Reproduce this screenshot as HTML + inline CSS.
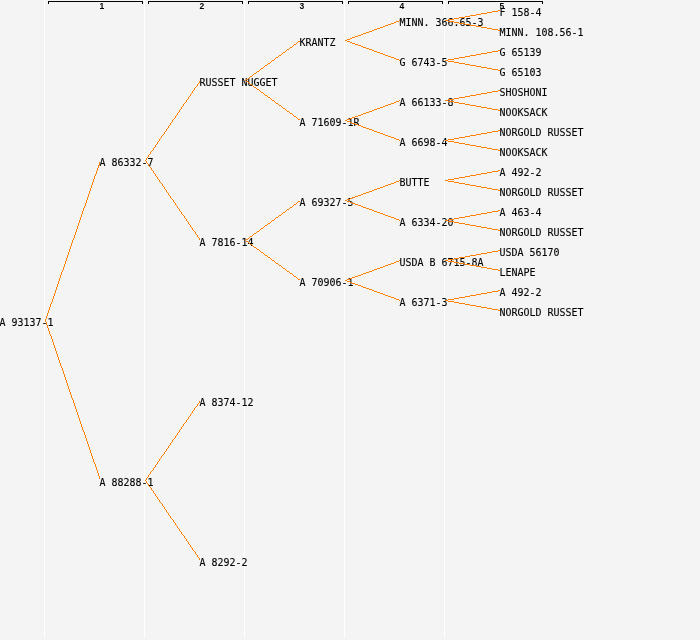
<!DOCTYPE html>
<html lang="en"><head><meta charset="utf-8"><title>Pedigree</title>
<style>
html,body{margin:0;padding:0;background:#f4f4f4;}
body{width:700px;height:640px;overflow:hidden;}
svg{display:block;}
.n{font-family:"DejaVu Sans Mono", "Liberation Mono", monospace;font-size:11px;fill:#000;stroke:#000;stroke-width:0.12px;}
.g{font-family:"Liberation Sans",sans-serif;font-weight:bold;font-size:8.5px;fill:#000;text-anchor:middle;}
.l{fill:#ff8000;stroke:none;}
.b{stroke:#000;stroke-width:1;fill:none;}
.w{stroke:#fff;stroke-width:1;}
</style></head><body>
<svg width="700" height="640" viewBox="0 0 700 640">
<rect width="700" height="640" fill="#f4f4f4"/>
<g shape-rendering="crispEdges">
<line class="w" x1="44.5" y1="0" x2="44.5" y2="638"/>
<line class="w" x1="144.5" y1="0" x2="144.5" y2="638"/>
<line class="w" x1="244.5" y1="0" x2="244.5" y2="638"/>
<line class="w" x1="344.5" y1="0" x2="344.5" y2="638"/>
<line class="w" x1="444.5" y1="0" x2="444.5" y2="638"/>
<path class="b" d="M48.5 4V1.5H142.5V4"/>
<path class="b" d="M148.5 4V1.5H242.5V4"/>
<path class="b" d="M248.5 4V1.5H342.5V4"/>
<path class="b" d="M348.5 4V1.5H442.5V4"/>
<path class="b" d="M448.5 4V1.5H542.5V4"/>
</g>
<text class="g" x="101.8" y="9">1</text>
<text class="g" x="201.8" y="9">2</text>
<text class="g" x="301.8" y="9">3</text>
<text class="g" x="401.8" y="9">4</text>
<text class="g" x="501.8" y="9">5</text>
<g class="n">
<text transform="translate(-0.5 326) scale(0.9060 1)">A 93137-1</text>
<text transform="translate(99.5 166) scale(0.9060 1)">A 86332-7</text>
<text transform="translate(199.5 86) scale(0.9060 1)">RUSSET NUGGET</text>
<text transform="translate(299.5 46) scale(0.9060 1)">KRANTZ</text>
<text transform="translate(399.5 26) scale(0.9060 1)">MINN. 366.65-3</text>
<text transform="translate(499.5 16) scale(0.9060 1)">F 158-4</text>
<text transform="translate(499.5 36) scale(0.9060 1)">MINN. 108.56-1</text>
<text transform="translate(399.5 66) scale(0.9060 1)">G 6743-5</text>
<text transform="translate(499.5 56) scale(0.9060 1)">G 65139</text>
<text transform="translate(499.5 76) scale(0.9060 1)">G 65103</text>
<text transform="translate(299.5 126) scale(0.9060 1)">A 71609-1R</text>
<text transform="translate(399.5 106) scale(0.9060 1)">A 66133-8</text>
<text transform="translate(499.5 96) scale(0.9060 1)">SHOSHONI</text>
<text transform="translate(499.5 116) scale(0.9060 1)">NOOKSACK</text>
<text transform="translate(399.5 146) scale(0.9060 1)">A 6698-4</text>
<text transform="translate(499.5 136) scale(0.9060 1)">NORGOLD RUSSET</text>
<text transform="translate(499.5 156) scale(0.9060 1)">NOOKSACK</text>
<text transform="translate(199.5 246) scale(0.9060 1)">A 7816-14</text>
<text transform="translate(299.5 206) scale(0.9060 1)">A 69327-5</text>
<text transform="translate(399.5 186) scale(0.9060 1)">BUTTE</text>
<text transform="translate(499.5 176) scale(0.9060 1)">A 492-2</text>
<text transform="translate(499.5 196) scale(0.9060 1)">NORGOLD RUSSET</text>
<text transform="translate(399.5 226) scale(0.9060 1)">A 6334-20</text>
<text transform="translate(499.5 216) scale(0.9060 1)">A 463-4</text>
<text transform="translate(499.5 236) scale(0.9060 1)">NORGOLD RUSSET</text>
<text transform="translate(299.5 286) scale(0.9060 1)">A 70906-1</text>
<text transform="translate(399.5 266) scale(0.9060 1)">USDA B 6715-8A</text>
<text transform="translate(499.5 256) scale(0.9060 1)">USDA 56170</text>
<text transform="translate(499.5 276) scale(0.9060 1)">LENAPE</text>
<text transform="translate(399.5 306) scale(0.9060 1)">A 6371-3</text>
<text transform="translate(499.5 296) scale(0.9060 1)">A 492-2</text>
<text transform="translate(499.5 316) scale(0.9060 1)">NORGOLD RUSSET</text>
<text transform="translate(99.5 486) scale(0.9060 1)">A 88288-1</text>
<text transform="translate(199.5 406) scale(0.9060 1)">A 8374-12</text>
<text transform="translate(199.5 566) scale(0.9060 1)">A 8292-2</text>
</g>
<g class="l" shape-rendering="crispEdges">
<path d="M45 319v2h1v-2zM46 316v3h1v-3zM47 313v3h1v-3zM48 310v3h1v-3zM49 307v3h1v-3zM50 304v3h1v-3zM51 302v2h1v-2zM52 299v3h1v-3zM53 296v3h1v-3zM54 293v3h1v-3zM55 290v3h1v-3zM56 287v3h1v-3zM57 284v3h1v-3zM58 281v3h1v-3zM59 278v3h1v-3zM60 275v3h1v-3zM61 272v3h1v-3zM62 270v2h1v-2zM63 267v3h1v-3zM64 264v3h1v-3zM65 261v3h1v-3zM66 258v3h1v-3zM67 255v3h1v-3zM68 252v3h1v-3zM69 249v3h1v-3zM70 246v3h1v-3zM71 243v3h1v-3zM72 240v3h1v-3zM73 238v2h1v-2zM74 235v3h1v-3zM75 232v3h1v-3zM76 229v3h1v-3zM77 226v3h1v-3zM78 223v3h1v-3zM79 220v3h1v-3zM80 217v3h1v-3zM81 214v3h1v-3zM82 211v3h1v-3zM83 208v3h1v-3zM84 206v2h1v-2zM85 203v3h1v-3zM86 200v3h1v-3zM87 197v3h1v-3zM88 194v3h1v-3zM89 191v3h1v-3zM90 188v3h1v-3zM91 185v3h1v-3zM92 182v3h1v-3zM93 179v3h1v-3zM94 176v3h1v-3zM95 174v2h1v-2zM96 171v3h1v-3zM97 168v3h1v-3zM98 165v3h1v-3zM99 162v3h1v-3z"/>
<path d="M145 160v1h1v-1zM146 158v2h1v-2zM147 157v1h1v-1zM148 155v2h1v-2zM149 154v1h1v-1zM150 152v2h1v-2zM151 151v1h1v-1zM152 150v1h1v-1zM153 148v2h1v-2zM154 147v1h1v-1zM155 145v2h1v-2zM156 144v1h1v-1zM157 142v2h1v-2zM158 141v1h1v-1zM159 139v2h1v-2zM160 138v1h1v-1zM161 136v2h1v-2zM162 135v1h1v-1zM163 134v1h1v-1zM164 132v2h1v-2zM165 131v1h1v-1zM166 129v2h1v-2zM167 128v1h1v-1zM168 126v2h1v-2zM169 125v1h1v-1zM170 123v2h1v-2zM171 122v1h1v-1zM172 120v2h1v-2zM173 119v1h1v-1zM174 118v1h1v-1zM175 116v2h1v-2zM176 115v1h1v-1zM177 113v2h1v-2zM178 112v1h1v-1zM179 110v2h1v-2zM180 109v1h1v-1zM181 107v2h1v-2zM182 106v1h1v-1zM183 104v2h1v-2zM184 103v1h1v-1zM185 102v1h1v-1zM186 100v2h1v-2zM187 99v1h1v-1zM188 97v2h1v-2zM189 96v1h1v-1zM190 94v2h1v-2zM191 93v1h1v-1zM192 91v2h1v-2zM193 90v1h1v-1zM194 88v2h1v-2zM195 87v1h1v-1zM196 86v1h1v-1zM197 84v2h1v-2zM198 83v1h1v-1zM199 81v2h1v-2z"/>
<path d="M298 41h2v1h-2zM297 42h1v1h-1zM296 43h1v1h-1zM294 44h2v1h-2zM293 45h1v1h-1zM292 46h1v1h-1zM290 47h2v1h-2zM289 48h1v1h-1zM287 49h2v1h-2zM286 50h1v1h-1zM285 51h1v1h-1zM283 52h2v1h-2zM282 53h1v1h-1zM281 54h1v1h-1zM279 55h2v1h-2zM278 56h1v1h-1zM276 57h2v1h-2zM275 58h1v1h-1zM274 59h1v1h-1zM272 60h2v1h-2zM271 61h1v1h-1zM270 62h1v1h-1zM268 63h2v1h-2zM267 64h1v1h-1zM265 65h2v1h-2zM264 66h1v1h-1zM263 67h1v1h-1zM261 68h2v1h-2zM260 69h1v1h-1zM259 70h1v1h-1zM257 71h2v1h-2zM256 72h1v1h-1zM254 73h2v1h-2zM253 74h1v1h-1zM252 75h1v1h-1zM250 76h2v1h-2zM249 77h1v1h-1zM248 78h1v1h-1zM246 79h2v1h-2zM245 80h1v1h-1z"/>
<path d="M399 20h1v1h-1zM396 21h3v1h-3zM394 22h2v1h-2zM391 23h3v1h-3zM388 24h3v1h-3zM385 25h3v1h-3zM383 26h2v1h-2zM380 27h3v1h-3zM377 28h3v1h-3zM374 29h3v1h-3zM372 30h2v1h-2zM369 31h3v1h-3zM366 32h3v1h-3zM363 33h3v1h-3zM361 34h2v1h-2zM358 35h3v1h-3zM355 36h3v1h-3zM352 37h3v1h-3zM350 38h2v1h-2zM347 39h3v1h-3zM345 40h2v1h-2z"/>
<path d="M498 10h2v1h-2zM492 11h6v1h-6zM487 12h5v1h-5zM481 13h6v1h-6zM476 14h5v1h-5zM470 15h6v1h-6zM465 16h5v1h-5zM459 17h6v1h-6zM454 18h5v1h-5zM448 19h6v1h-6zM445 20h3v1h-3z"/>
<path d="M445 20h3v1h-3zM448 21h6v1h-6zM454 22h5v1h-5zM459 23h6v1h-6zM465 24h5v1h-5zM470 25h6v1h-6zM476 26h5v1h-5zM481 27h6v1h-6zM487 28h5v1h-5zM492 29h6v1h-6zM498 30h2v1h-2z"/>
<path d="M345 40h2v1h-2zM347 41h3v1h-3zM350 42h2v1h-2zM352 43h3v1h-3zM355 44h3v1h-3zM358 45h3v1h-3zM361 46h2v1h-2zM363 47h3v1h-3zM366 48h3v1h-3zM369 49h3v1h-3zM372 50h2v1h-2zM374 51h3v1h-3zM377 52h3v1h-3zM380 53h3v1h-3zM383 54h2v1h-2zM385 55h3v1h-3zM388 56h3v1h-3zM391 57h3v1h-3zM394 58h2v1h-2zM396 59h3v1h-3zM399 60h1v1h-1z"/>
<path d="M498 50h2v1h-2zM492 51h6v1h-6zM487 52h5v1h-5zM481 53h6v1h-6zM476 54h5v1h-5zM470 55h6v1h-6zM465 56h5v1h-5zM459 57h6v1h-6zM454 58h5v1h-5zM448 59h6v1h-6zM445 60h3v1h-3z"/>
<path d="M445 60h3v1h-3zM448 61h6v1h-6zM454 62h5v1h-5zM459 63h6v1h-6zM465 64h5v1h-5zM470 65h6v1h-6zM476 66h5v1h-5zM481 67h6v1h-6zM487 68h5v1h-5zM492 69h6v1h-6zM498 70h2v1h-2z"/>
<path d="M245 80h1v1h-1zM246 81h2v1h-2zM248 82h1v1h-1zM249 83h1v1h-1zM250 84h2v1h-2zM252 85h1v1h-1zM253 86h1v1h-1zM254 87h2v1h-2zM256 88h1v1h-1zM257 89h2v1h-2zM259 90h1v1h-1zM260 91h1v1h-1zM261 92h2v1h-2zM263 93h1v1h-1zM264 94h1v1h-1zM265 95h2v1h-2zM267 96h1v1h-1zM268 97h2v1h-2zM270 98h1v1h-1zM271 99h1v1h-1zM272 100h2v1h-2zM274 101h1v1h-1zM275 102h1v1h-1zM276 103h2v1h-2zM278 104h1v1h-1zM279 105h2v1h-2zM281 106h1v1h-1zM282 107h1v1h-1zM283 108h2v1h-2zM285 109h1v1h-1zM286 110h1v1h-1zM287 111h2v1h-2zM289 112h1v1h-1zM290 113h2v1h-2zM292 114h1v1h-1zM293 115h1v1h-1zM294 116h2v1h-2zM296 117h1v1h-1zM297 118h1v1h-1zM298 119h2v1h-2z"/>
<path d="M399 100h1v1h-1zM396 101h3v1h-3zM394 102h2v1h-2zM391 103h3v1h-3zM388 104h3v1h-3zM385 105h3v1h-3zM383 106h2v1h-2zM380 107h3v1h-3zM377 108h3v1h-3zM374 109h3v1h-3zM372 110h2v1h-2zM369 111h3v1h-3zM366 112h3v1h-3zM363 113h3v1h-3zM361 114h2v1h-2zM358 115h3v1h-3zM355 116h3v1h-3zM352 117h3v1h-3zM350 118h2v1h-2zM347 119h3v1h-3zM345 120h2v1h-2z"/>
<path d="M498 90h2v1h-2zM492 91h6v1h-6zM487 92h5v1h-5zM481 93h6v1h-6zM476 94h5v1h-5zM470 95h6v1h-6zM465 96h5v1h-5zM459 97h6v1h-6zM454 98h5v1h-5zM448 99h6v1h-6zM445 100h3v1h-3z"/>
<path d="M445 100h3v1h-3zM448 101h6v1h-6zM454 102h5v1h-5zM459 103h6v1h-6zM465 104h5v1h-5zM470 105h6v1h-6zM476 106h5v1h-5zM481 107h6v1h-6zM487 108h5v1h-5zM492 109h6v1h-6zM498 110h2v1h-2z"/>
<path d="M345 120h2v1h-2zM347 121h3v1h-3zM350 122h2v1h-2zM352 123h3v1h-3zM355 124h3v1h-3zM358 125h3v1h-3zM361 126h2v1h-2zM363 127h3v1h-3zM366 128h3v1h-3zM369 129h3v1h-3zM372 130h2v1h-2zM374 131h3v1h-3zM377 132h3v1h-3zM380 133h3v1h-3zM383 134h2v1h-2zM385 135h3v1h-3zM388 136h3v1h-3zM391 137h3v1h-3zM394 138h2v1h-2zM396 139h3v1h-3zM399 140h1v1h-1z"/>
<path d="M498 130h2v1h-2zM492 131h6v1h-6zM487 132h5v1h-5zM481 133h6v1h-6zM476 134h5v1h-5zM470 135h6v1h-6zM465 136h5v1h-5zM459 137h6v1h-6zM454 138h5v1h-5zM448 139h6v1h-6zM445 140h3v1h-3z"/>
<path d="M445 140h3v1h-3zM448 141h6v1h-6zM454 142h5v1h-5zM459 143h6v1h-6zM465 144h5v1h-5zM470 145h6v1h-6zM476 146h5v1h-5zM481 147h6v1h-6zM487 148h5v1h-5zM492 149h6v1h-6zM498 150h2v1h-2z"/>
<path d="M145 160v1h1v-1zM146 161v2h1v-2zM147 163v1h1v-1zM148 164v2h1v-2zM149 166v1h1v-1zM150 167v1h1v-1zM151 168v2h1v-2zM152 170v1h1v-1zM153 171v2h1v-2zM154 173v1h1v-1zM155 174v2h1v-2zM156 176v1h1v-1zM157 177v2h1v-2zM158 179v1h1v-1zM159 180v2h1v-2zM160 182v1h1v-1zM161 183v1h1v-1zM162 184v2h1v-2zM163 186v1h1v-1zM164 187v2h1v-2zM165 189v1h1v-1zM166 190v2h1v-2zM167 192v1h1v-1zM168 193v2h1v-2zM169 195v1h1v-1zM170 196v2h1v-2zM171 198v1h1v-1zM172 199v1h1v-1zM173 200v2h1v-2zM174 202v1h1v-1zM175 203v2h1v-2zM176 205v1h1v-1zM177 206v2h1v-2zM178 208v1h1v-1zM179 209v2h1v-2zM180 211v1h1v-1zM181 212v2h1v-2zM182 214v1h1v-1zM183 215v1h1v-1zM184 216v2h1v-2zM185 218v1h1v-1zM186 219v2h1v-2zM187 221v1h1v-1zM188 222v2h1v-2zM189 224v1h1v-1zM190 225v2h1v-2zM191 227v1h1v-1zM192 228v2h1v-2zM193 230v1h1v-1zM194 231v1h1v-1zM195 232v2h1v-2zM196 234v1h1v-1zM197 235v2h1v-2zM198 237v1h1v-1zM199 238v2h1v-2z"/>
<path d="M298 201h2v1h-2zM297 202h1v1h-1zM296 203h1v1h-1zM294 204h2v1h-2zM293 205h1v1h-1zM292 206h1v1h-1zM290 207h2v1h-2zM289 208h1v1h-1zM287 209h2v1h-2zM286 210h1v1h-1zM285 211h1v1h-1zM283 212h2v1h-2zM282 213h1v1h-1zM281 214h1v1h-1zM279 215h2v1h-2zM278 216h1v1h-1zM276 217h2v1h-2zM275 218h1v1h-1zM274 219h1v1h-1zM272 220h2v1h-2zM271 221h1v1h-1zM270 222h1v1h-1zM268 223h2v1h-2zM267 224h1v1h-1zM265 225h2v1h-2zM264 226h1v1h-1zM263 227h1v1h-1zM261 228h2v1h-2zM260 229h1v1h-1zM259 230h1v1h-1zM257 231h2v1h-2zM256 232h1v1h-1zM254 233h2v1h-2zM253 234h1v1h-1zM252 235h1v1h-1zM250 236h2v1h-2zM249 237h1v1h-1zM248 238h1v1h-1zM246 239h2v1h-2zM245 240h1v1h-1z"/>
<path d="M399 180h1v1h-1zM396 181h3v1h-3zM394 182h2v1h-2zM391 183h3v1h-3zM388 184h3v1h-3zM385 185h3v1h-3zM383 186h2v1h-2zM380 187h3v1h-3zM377 188h3v1h-3zM374 189h3v1h-3zM372 190h2v1h-2zM369 191h3v1h-3zM366 192h3v1h-3zM363 193h3v1h-3zM361 194h2v1h-2zM358 195h3v1h-3zM355 196h3v1h-3zM352 197h3v1h-3zM350 198h2v1h-2zM347 199h3v1h-3zM345 200h2v1h-2z"/>
<path d="M498 170h2v1h-2zM492 171h6v1h-6zM487 172h5v1h-5zM481 173h6v1h-6zM476 174h5v1h-5zM470 175h6v1h-6zM465 176h5v1h-5zM459 177h6v1h-6zM454 178h5v1h-5zM448 179h6v1h-6zM445 180h3v1h-3z"/>
<path d="M445 180h3v1h-3zM448 181h6v1h-6zM454 182h5v1h-5zM459 183h6v1h-6zM465 184h5v1h-5zM470 185h6v1h-6zM476 186h5v1h-5zM481 187h6v1h-6zM487 188h5v1h-5zM492 189h6v1h-6zM498 190h2v1h-2z"/>
<path d="M345 200h2v1h-2zM347 201h3v1h-3zM350 202h2v1h-2zM352 203h3v1h-3zM355 204h3v1h-3zM358 205h3v1h-3zM361 206h2v1h-2zM363 207h3v1h-3zM366 208h3v1h-3zM369 209h3v1h-3zM372 210h2v1h-2zM374 211h3v1h-3zM377 212h3v1h-3zM380 213h3v1h-3zM383 214h2v1h-2zM385 215h3v1h-3zM388 216h3v1h-3zM391 217h3v1h-3zM394 218h2v1h-2zM396 219h3v1h-3zM399 220h1v1h-1z"/>
<path d="M498 210h2v1h-2zM492 211h6v1h-6zM487 212h5v1h-5zM481 213h6v1h-6zM476 214h5v1h-5zM470 215h6v1h-6zM465 216h5v1h-5zM459 217h6v1h-6zM454 218h5v1h-5zM448 219h6v1h-6zM445 220h3v1h-3z"/>
<path d="M445 220h3v1h-3zM448 221h6v1h-6zM454 222h5v1h-5zM459 223h6v1h-6zM465 224h5v1h-5zM470 225h6v1h-6zM476 226h5v1h-5zM481 227h6v1h-6zM487 228h5v1h-5zM492 229h6v1h-6zM498 230h2v1h-2z"/>
<path d="M245 240h1v1h-1zM246 241h2v1h-2zM248 242h1v1h-1zM249 243h1v1h-1zM250 244h2v1h-2zM252 245h1v1h-1zM253 246h1v1h-1zM254 247h2v1h-2zM256 248h1v1h-1zM257 249h2v1h-2zM259 250h1v1h-1zM260 251h1v1h-1zM261 252h2v1h-2zM263 253h1v1h-1zM264 254h1v1h-1zM265 255h2v1h-2zM267 256h1v1h-1zM268 257h2v1h-2zM270 258h1v1h-1zM271 259h1v1h-1zM272 260h2v1h-2zM274 261h1v1h-1zM275 262h1v1h-1zM276 263h2v1h-2zM278 264h1v1h-1zM279 265h2v1h-2zM281 266h1v1h-1zM282 267h1v1h-1zM283 268h2v1h-2zM285 269h1v1h-1zM286 270h1v1h-1zM287 271h2v1h-2zM289 272h1v1h-1zM290 273h2v1h-2zM292 274h1v1h-1zM293 275h1v1h-1zM294 276h2v1h-2zM296 277h1v1h-1zM297 278h1v1h-1zM298 279h2v1h-2z"/>
<path d="M399 260h1v1h-1zM396 261h3v1h-3zM394 262h2v1h-2zM391 263h3v1h-3zM388 264h3v1h-3zM385 265h3v1h-3zM383 266h2v1h-2zM380 267h3v1h-3zM377 268h3v1h-3zM374 269h3v1h-3zM372 270h2v1h-2zM369 271h3v1h-3zM366 272h3v1h-3zM363 273h3v1h-3zM361 274h2v1h-2zM358 275h3v1h-3zM355 276h3v1h-3zM352 277h3v1h-3zM350 278h2v1h-2zM347 279h3v1h-3zM345 280h2v1h-2z"/>
<path d="M498 250h2v1h-2zM492 251h6v1h-6zM487 252h5v1h-5zM481 253h6v1h-6zM476 254h5v1h-5zM470 255h6v1h-6zM465 256h5v1h-5zM459 257h6v1h-6zM454 258h5v1h-5zM448 259h6v1h-6zM445 260h3v1h-3z"/>
<path d="M445 260h3v1h-3zM448 261h6v1h-6zM454 262h5v1h-5zM459 263h6v1h-6zM465 264h5v1h-5zM470 265h6v1h-6zM476 266h5v1h-5zM481 267h6v1h-6zM487 268h5v1h-5zM492 269h6v1h-6zM498 270h2v1h-2z"/>
<path d="M345 280h2v1h-2zM347 281h3v1h-3zM350 282h2v1h-2zM352 283h3v1h-3zM355 284h3v1h-3zM358 285h3v1h-3zM361 286h2v1h-2zM363 287h3v1h-3zM366 288h3v1h-3zM369 289h3v1h-3zM372 290h2v1h-2zM374 291h3v1h-3zM377 292h3v1h-3zM380 293h3v1h-3zM383 294h2v1h-2zM385 295h3v1h-3zM388 296h3v1h-3zM391 297h3v1h-3zM394 298h2v1h-2zM396 299h3v1h-3zM399 300h1v1h-1z"/>
<path d="M498 290h2v1h-2zM492 291h6v1h-6zM487 292h5v1h-5zM481 293h6v1h-6zM476 294h5v1h-5zM470 295h6v1h-6zM465 296h5v1h-5zM459 297h6v1h-6zM454 298h5v1h-5zM448 299h6v1h-6zM445 300h3v1h-3z"/>
<path d="M445 300h3v1h-3zM448 301h6v1h-6zM454 302h5v1h-5zM459 303h6v1h-6zM465 304h5v1h-5zM470 305h6v1h-6zM476 306h5v1h-5zM481 307h6v1h-6zM487 308h5v1h-5zM492 309h6v1h-6zM498 310h2v1h-2z"/>
<path d="M45 320v2h1v-2zM46 322v3h1v-3zM47 325v3h1v-3zM48 328v3h1v-3zM49 331v3h1v-3zM50 334v2h1v-2zM51 336v3h1v-3zM52 339v3h1v-3zM53 342v3h1v-3zM54 345v3h1v-3zM55 348v3h1v-3zM56 351v3h1v-3zM57 354v3h1v-3zM58 357v3h1v-3zM59 360v3h1v-3zM60 363v3h1v-3zM61 366v2h1v-2zM62 368v3h1v-3zM63 371v3h1v-3zM64 374v3h1v-3zM65 377v3h1v-3zM66 380v3h1v-3zM67 383v3h1v-3zM68 386v3h1v-3zM69 389v3h1v-3zM70 392v3h1v-3zM71 395v3h1v-3zM72 398v2h1v-2zM73 400v3h1v-3zM74 403v3h1v-3zM75 406v3h1v-3zM76 409v3h1v-3zM77 412v3h1v-3zM78 415v3h1v-3zM79 418v3h1v-3zM80 421v3h1v-3zM81 424v3h1v-3zM82 427v3h1v-3zM83 430v2h1v-2zM84 432v3h1v-3zM85 435v3h1v-3zM86 438v3h1v-3zM87 441v3h1v-3zM88 444v3h1v-3zM89 447v3h1v-3zM90 450v3h1v-3zM91 453v3h1v-3zM92 456v3h1v-3zM93 459v3h1v-3zM94 462v2h1v-2zM95 464v3h1v-3zM96 467v3h1v-3zM97 470v3h1v-3zM98 473v3h1v-3zM99 476v3h1v-3z"/>
<path d="M145 480v1h1v-1zM146 478v2h1v-2zM147 477v1h1v-1zM148 475v2h1v-2zM149 474v1h1v-1zM150 472v2h1v-2zM151 471v1h1v-1zM152 470v1h1v-1zM153 468v2h1v-2zM154 467v1h1v-1zM155 465v2h1v-2zM156 464v1h1v-1zM157 462v2h1v-2zM158 461v1h1v-1zM159 459v2h1v-2zM160 458v1h1v-1zM161 456v2h1v-2zM162 455v1h1v-1zM163 454v1h1v-1zM164 452v2h1v-2zM165 451v1h1v-1zM166 449v2h1v-2zM167 448v1h1v-1zM168 446v2h1v-2zM169 445v1h1v-1zM170 443v2h1v-2zM171 442v1h1v-1zM172 440v2h1v-2zM173 439v1h1v-1zM174 438v1h1v-1zM175 436v2h1v-2zM176 435v1h1v-1zM177 433v2h1v-2zM178 432v1h1v-1zM179 430v2h1v-2zM180 429v1h1v-1zM181 427v2h1v-2zM182 426v1h1v-1zM183 424v2h1v-2zM184 423v1h1v-1zM185 422v1h1v-1zM186 420v2h1v-2zM187 419v1h1v-1zM188 417v2h1v-2zM189 416v1h1v-1zM190 414v2h1v-2zM191 413v1h1v-1zM192 411v2h1v-2zM193 410v1h1v-1zM194 408v2h1v-2zM195 407v1h1v-1zM196 406v1h1v-1zM197 404v2h1v-2zM198 403v1h1v-1zM199 401v2h1v-2z"/>
<path d="M145 480v1h1v-1zM146 481v2h1v-2zM147 483v1h1v-1zM148 484v2h1v-2zM149 486v1h1v-1zM150 487v1h1v-1zM151 488v2h1v-2zM152 490v1h1v-1zM153 491v2h1v-2zM154 493v1h1v-1zM155 494v2h1v-2zM156 496v1h1v-1zM157 497v2h1v-2zM158 499v1h1v-1zM159 500v2h1v-2zM160 502v1h1v-1zM161 503v1h1v-1zM162 504v2h1v-2zM163 506v1h1v-1zM164 507v2h1v-2zM165 509v1h1v-1zM166 510v2h1v-2zM167 512v1h1v-1zM168 513v2h1v-2zM169 515v1h1v-1zM170 516v2h1v-2zM171 518v1h1v-1zM172 519v1h1v-1zM173 520v2h1v-2zM174 522v1h1v-1zM175 523v2h1v-2zM176 525v1h1v-1zM177 526v2h1v-2zM178 528v1h1v-1zM179 529v2h1v-2zM180 531v1h1v-1zM181 532v2h1v-2zM182 534v1h1v-1zM183 535v1h1v-1zM184 536v2h1v-2zM185 538v1h1v-1zM186 539v2h1v-2zM187 541v1h1v-1zM188 542v2h1v-2zM189 544v1h1v-1zM190 545v2h1v-2zM191 547v1h1v-1zM192 548v2h1v-2zM193 550v1h1v-1zM194 551v1h1v-1zM195 552v2h1v-2zM196 554v1h1v-1zM197 555v2h1v-2zM198 557v1h1v-1zM199 558v2h1v-2z"/>
</g>
</svg>
</body></html>
